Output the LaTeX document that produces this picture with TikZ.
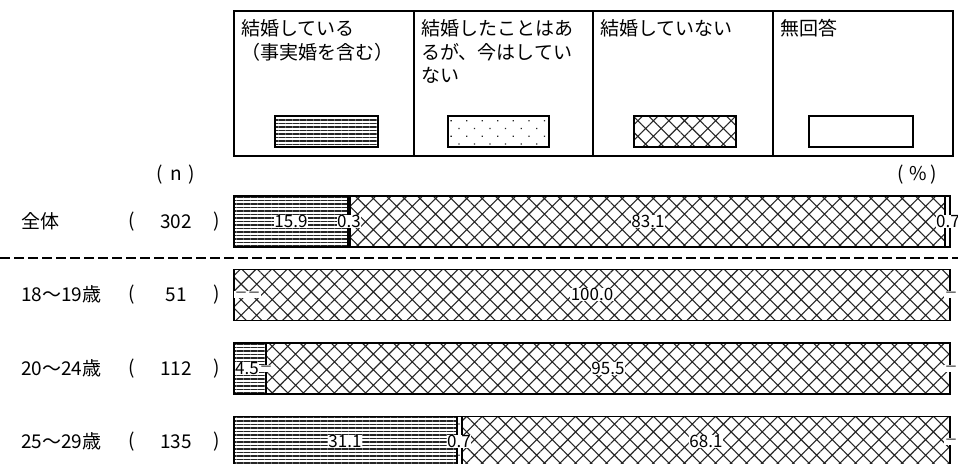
\documentclass[tikz,border=0pt]{standalone}
\usepackage{fontspec}
\setmainfont{Noto Sans CJK JP}
\usetikzlibrary{patterns.meta}

\begin{document}
\begin{tikzpicture}[x=1pt,y=-1pt,
	married/.style={pattern={Lines[angle=0,distance=3.5pt,line width=1.4pt]},pattern color=black!85},
	divorced/.style={pattern={Dots[angle=45,distance=11pt,radius=0.9pt]},pattern color=black!85},
	single/.style={pattern={Hatch[angle=45,distance=11pt,line width=1.1pt]},pattern color=black!85},
	noans/.style={fill=white},
	seg/.style={draw=black,line width=1.6pt},
	val/.style={fill=white,inner sep=0.6pt,font=\fontsize{17}{17}\selectfont},
	nil/.style={val,font=\fontsize{13}{13}\selectfont},
	lab/.style={inner sep=0pt,font=\fontsize{19}{19}\selectfont},
	legtext/.style={anchor=north west,inner sep=0pt,align=left,font=\fontsize{19}{23.5}\selectfont}]
			\useasboundingbox (0,0) rectangle (958,463);
			% legend
			\draw [line width=2pt] (234,10.5) rectangle (953,155.5);
			\draw [line width=2pt] (414,10.5) -- (414,155.5) (593,10.5) -- (593,155.5) (773,10.5) -- (773,155.5);
			\node [legtext] (leg1) at (241,19.5) {結婚している\\（事実婚を含む）};
			\node [legtext] (leg2) at (421,19.5) {結婚したことはあ\\るが、今はしてい\\ない};
			\node [legtext] (leg3) at (600,19.5) {結婚していない};
			\node [legtext] (leg4) at (780,19.5) {無回答};
			\draw [seg,married] (275,116) rectangle (378,147);
			\draw [seg,divorced] (448,116) rectangle (549,147);
			\draw [seg,single] (634,116) rectangle (736,147);
			\draw [seg,noans] (809,116) rectangle (913,147);
			% headers
			\node [lab] (nhead) at (176,175) {(\hspace{7pt}n\hspace{7pt})};
			\node [lab] (phead) at (917,175) {(\hspace{6pt}\%\hspace{3pt})};
			% total
			\node [lab,anchor=west] (tot) at (21,221.5) {全体};
			\node [lab] (totl) at (132,221.5) {(};
			\node [lab] (totn) at (176,221.5) {302};
			\node [lab] (totr) at (217,221.5) {)};
			\draw [seg,married] (234,196) rectangle (347.8,247);
			\draw [seg,divorced] (347.8,196) rectangle (350,247);
			\draw [seg,single] (350,196) rectangle (945,247);
			\draw [seg,noans] (945,196) rectangle (950,247);
			\node [val] (tot1) at (291,221.5) {15.9};
			\node [val] (tot2) at (349,221.5) {0.3};
			\node [val] (tot3) at (648,221.5) {83.1};
			\node [val] (tot4) at (948,221.5) {0.7};
			\draw [line width=2pt,dash pattern=on 10pt off 4pt] (0,258) -- (958,258);
			% 18-19
			\node [lab,anchor=west] (ageA) at (21,294.5) {18～19歳};
			\node [lab] (ageAl) at (132,294.5) {(};
			\node [lab] (ageAn) at (176,294.5) {51};
			\node [lab] (ageAr) at (217,294.5) {)};
			\draw [seg,single] (234,269.5) rectangle (950,320.5);
			\node [nil] (ageA1) at (241,294.5) {－};
			\node [nil] (ageA2) at (254,294.5) {－};
			\node [val] (ageA3) at (592,294.5) {100.0};
			\node [nil] (ageA4) at (951,294.5) {－};
			% 20-24
			\node [lab,anchor=west] (ageB) at (21,368.5) {20～24歳};
			\node [lab] (ageBl) at (132,368.5) {(};
			\node [lab] (ageBn) at (176,368.5) {112};
			\node [lab] (ageBr) at (217,368.5) {)};
			\draw [seg,married] (234,343) rectangle (266.2,394);
			\draw [seg,single] (266.2,343) rectangle (950,394);
			\node [val] (ageB1) at (247,368.5) {4.5};
			\node [nil] (ageB2) at (266,368.5) {－};
			\node [val] (ageB3) at (608,368.5) {95.5};
			\node [nil] (ageB4) at (951,368.5) {－};
			% 25-29
			\node [lab,anchor=west] (ageC) at (21,441.5) {25～29歳};
			\node [lab] (ageCl) at (132,441.5) {(};
			\node [lab] (ageCn) at (176,441.5) {135};
			\node [lab] (ageCr) at (217,441.5) {)};
			\draw [seg,married] (234,416.5) rectangle (456.7,467.5);
			\draw [seg,divorced] (456.7,416.5) rectangle (461.7,467.5);
			\draw [seg,single] (461.7,416.5) rectangle (950,467.5);
			\node [val] (ageC1) at (345,441.5) {31.1};
			\node [val] (ageC2) at (459,441.5) {0.7};
			\node [val] (ageC3) at (706,441.5) {68.1};
			\node [nil] (ageC4) at (951,441.5) {－};
\end{tikzpicture}
\end{document}
